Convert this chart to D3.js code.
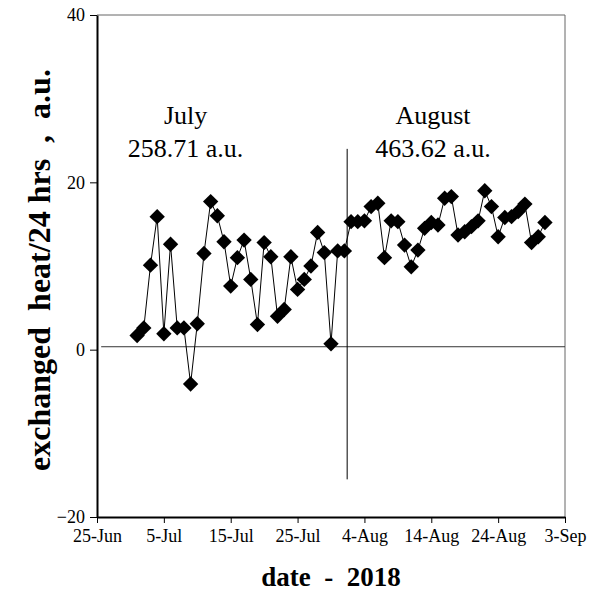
<!DOCTYPE html>
<html><head><meta charset="utf-8">
<script src="https://cdn.jsdelivr.net/npm/d3@7"></script>
<style>body{margin:0;background:#fff}</style>
</head><body>
<svg id="c" width="591" height="592"></svg>
<script>
const julyValues = [1.7,2.6,10.1,15.9,1.9,12.6,2.6,2.6,-4.1,3.1,11.5,17.7,16.0,12.9,7.6,11.0,13.1,8.4,3.0,12.8,11.1,4.0,4.8,11.1,7.2,8.4,10.0,14.0,11.6,0.7,11.8];
const augustValues = [11.8,15.3,15.3,15.4,17.1,17.5,11.0,15.4,15.3,12.5,9.9,11.9,14.5,15.2,14.9,18.1,18.3,13.7,14.1,14.7,15.4,19.0,17.1,13.5,15.8,15.9,16.5,17.4,12.8,13.5,15.2];
const xTickLabels = ["25-Jun","5-Jul","15-Jul","25-Jul","4-Aug","14-Aug","24-Aug","3-Sep"];
const yTicks = [-20,0,20,40];
const annotations = [["July","258.71 a.u."],["August","463.62 a.u."]];

const parse = d3.utcParse("%Y-%m-%d");
const data = [];
julyValues.forEach((v,i)=>data.push({date:new Date(Date.UTC(2018,6,i+1)), value:v}));
augustValues.forEach((v,i)=>data.push({date:new Date(Date.UTC(2018,7,i+1)), value:v}));

const svg = d3.select("#c");
const L=97,R=565,T=15,B=517;
const x = d3.scaleUtc().domain([parse("2018-06-25"), parse("2018-09-03")]).range([L,R]);
const y = d3.scaleLinear().domain([-20,40]).range([B,T]);

// frame top/right
svg.append("line").attr("x1",L).attr("x2",R).attr("y1",T).attr("y2",T).attr("stroke","#666").attr("stroke-width",1);
svg.append("line").attr("x1",R).attr("x2",R).attr("y1",T).attr("y2",B).attr("stroke","#666").attr("stroke-width",1);

const xTickDates = xTickLabels.map((_,i)=>d3.utcDay.offset(parse("2018-06-25"), i*10));
const xAxis = d3.axisBottom(x).tickValues(xTickDates).tickFormat((d,i)=>xTickLabels[i]).tickSize(6).tickSizeOuter(0).tickPadding(6);
const gx = svg.append("g").attr("transform",`translate(0,${B})`).call(xAxis);
gx.select(".domain").attr("stroke","#000").attr("stroke-width",2);
gx.selectAll(".tick line").attr("stroke","#000").attr("stroke-width",1);
gx.selectAll("text").attr("font-family","Liberation Serif").attr("font-size",18).attr("fill","#000");

const yAxis = d3.axisLeft(y).tickValues(yTicks).tickSize(7).tickSizeOuter(0).tickPadding(5);
const gy = svg.append("g").attr("transform",`translate(${L},0)`).call(yAxis);
gy.select(".domain").attr("stroke","#000").attr("stroke-width",2);
gy.selectAll(".tick line").attr("stroke","#000").attr("stroke-width",1);
gy.selectAll("text").attr("font-family","Liberation Serif").attr("font-size",18).attr("fill","#000");

// reference lines
svg.append("line").attr("x1",x(new Date(Date.UTC(2018,5,25,15)))).attr("x2",R)
  .attr("y1",y(0.35)).attr("y2",y(0.35)).attr("stroke","#333").attr("stroke-width",1);
const vx = x(new Date(Date.UTC(2018,7,1,10)));
svg.append("line").attr("x1",vx).attr("x2",vx).attr("y1",y(24)).attr("y2",y(-15.5)).attr("stroke","#000").attr("stroke-width",1);

// series
const line = d3.line().x(d=>x(d.date)).y(d=>y(d.value));
svg.append("path").datum(data).attr("d",line).attr("fill","none").attr("stroke","#000").attr("stroke-width",1);
const sym = d3.symbol().type(d3.symbolSquare).size(118);
svg.selectAll(".pt").data(data).enter().append("path").attr("class","pt")
  .attr("d",sym).attr("fill","#000")
  .attr("transform",d=>`translate(${x(d.date)},${y(d.value)}) rotate(45)`);

// annotations
const annX = [x(new Date(Date.UTC(2018,6,8,6))), x(new Date(Date.UTC(2018,7,14,6)))];
annotations.forEach((a,i)=>{
  svg.append("text").attr("x",annX[i]).attr("y",124).attr("text-anchor","middle")
    .attr("font-family","Liberation Serif").attr("font-size",26).text(a[0]);
  svg.append("text").attr("x",annX[i]).attr("y",157).attr("text-anchor","middle")
    .attr("font-family","Liberation Serif").attr("font-size",26).text(a[1]);
});

// axis titles
svg.append("text").attr("x",(L+R)/2).attr("y",586).attr("text-anchor","middle")
  .attr("font-family","Liberation Serif").attr("font-weight","bold").attr("font-size",27)
  .style("white-space","pre").text("date  -  2018");
svg.append("text").attr("transform",`translate(50,${(T+B)/2+4}) rotate(-90)`).attr("text-anchor","middle")
  .attr("font-family","Liberation Serif").attr("font-weight","bold").attr("font-size",32)
  .style("white-space","pre").text("exchanged  heat/24 hrs  ,  a.u.");
</script>
</body></html>
